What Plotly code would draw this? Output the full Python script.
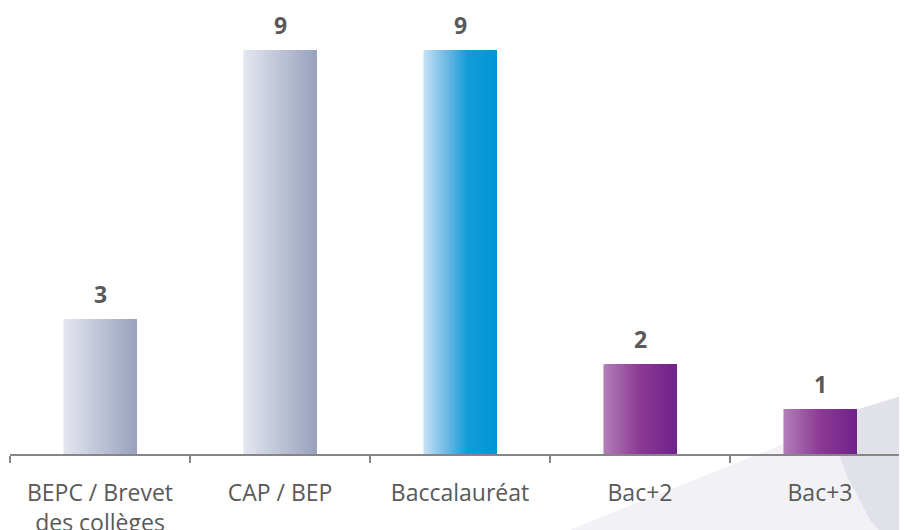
import plotly.graph_objects as go

categories = ["BEPC / Brevet<br>des collèges", "CAP / BEP", "Baccalauréat", "Bac+2", "Bac+3"]
values = [3, 9, 9, 2, 1]
value_labels = ["3", "9", "9", "2", "1"]

# gradient stops (left -> right) per bar
gray_stops = [(0.0, (228, 231, 240)), (1.0, (152, 161, 189))]
blue_stops = [(0.0, (200, 226, 245)), (0.35, (100, 180, 228)), (0.6, (20, 156, 216)), (1.0, (0, 150, 214))]
purple_stops = [(0.0, (178, 126, 184)), (0.5, (140, 58, 148)), (1.0, (112, 34, 138))]
bar_stops = [gray_stops, gray_stops, blue_stops, purple_stops, purple_stops]


def interp(stops, t):
    for (t0, c0), (t1, c1) in zip(stops[:-1], stops[1:]):
        if t0 <= t <= t1:
            f = (t - t0) / (t1 - t0) if t1 > t0 else 0
            c = [round(a + (b - a) * f) for a, b in zip(c0, c1)]
            return "rgb(%d,%d,%d)" % tuple(c)
    return "rgb(%d,%d,%d)" % stops[-1][1]


fig = go.Figure()
N = 40
W = 0.406
for i in range(N):
    off = -W / 2 + i * W / N
    t = (i + 0.5) / N
    fig.add_trace(go.Bar(
        x=categories, y=values,
        offset=off, width=W / 2 - off,
        marker=dict(color=[interp(s, t) for s in bar_stops], line=dict(width=0)),
        hoverinfo="skip", showlegend=False,
    ))

for c, v, lab in zip(categories, values, value_labels):
    fig.add_annotation(x=c, y=v, text="<b>%s</b>" % lab, showarrow=False,
                       yanchor="bottom", yshift=7,
                       font=dict(family="Open Sans", size=23, color="#595959"))

# faint decorative background wedge (bottom right)
fig.add_shape(type="path", xref="paper", yref="paper", layer="below",
              path="M 0.622 -0.17 L 1 0.143 L 1 -0.2 L 0.6 -0.2 Z",
              fillcolor="#F2F2F6", line=dict(width=0))
fig.add_shape(type="path", xref="paper", yref="paper", layer="below",
              path="M 0.9 0.078 L 1 0.143 L 1 -0.2 L 0.97 -0.2 L 0.95 -0.15 L 0.925 -0.05 Z",
              fillcolor="#E1E1EA", line=dict(width=0))

fig.update_layout(
    width=907, height=530,
    margin=dict(l=2, r=0, t=8, b=84),
    paper_bgcolor="white", plot_bgcolor="rgba(0,0,0,0)",
    barmode="overlay",
    font=dict(family="Open Sans", size=23, color="#595959"),
    xaxis=dict(type="category", range=[-0.5, 4.5278], tickson="boundaries",
               ticks="outside", ticklen=7, tickcolor="#868686", tickwidth=1.5,
               showline=True, linecolor="#868686", linewidth=2,
               showgrid=False, zeroline=False, ticklabelstandoff=17,
               tickfont=dict(family="Open Sans", size=23, color="#595959")),
    yaxis=dict(range=[0, 9.755], visible=False, showgrid=False, zeroline=False),
)

fig.write_html("out.html")
